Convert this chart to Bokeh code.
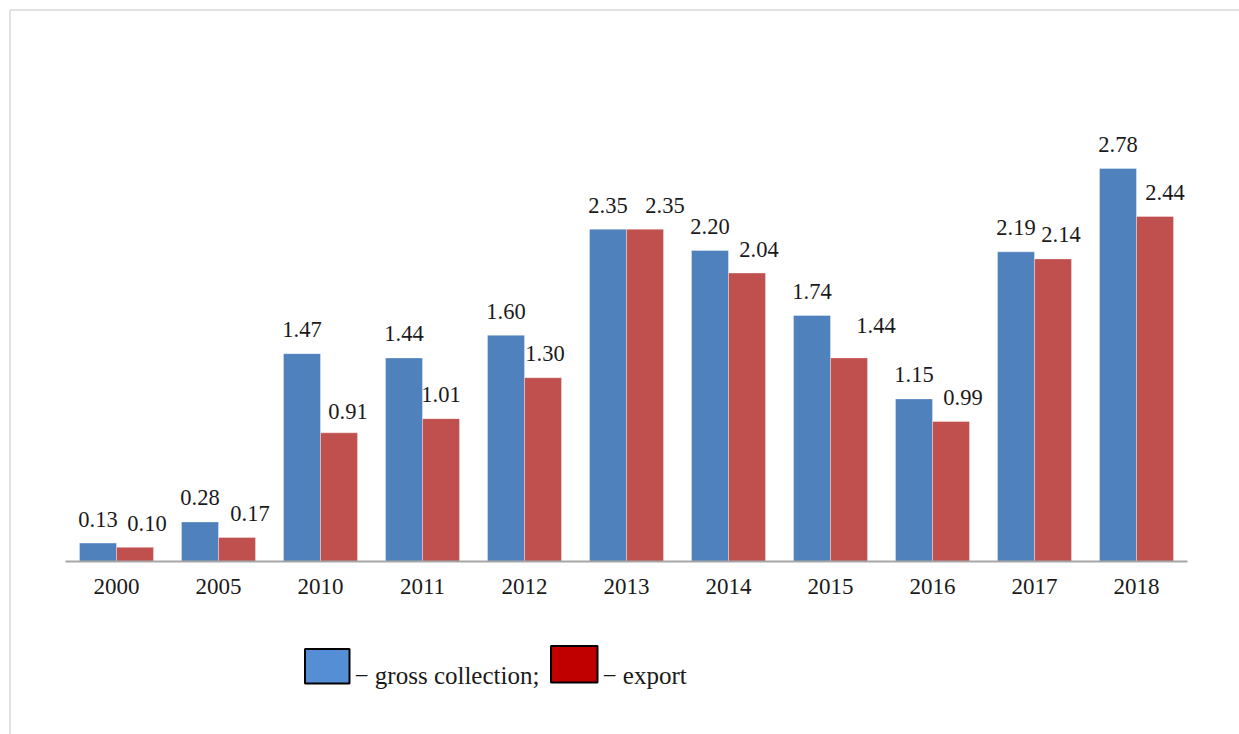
from bokeh.plotting import figure
from bokeh.models import Range1d, LinearAxis, FixedTicker, ColumnDataSource
from bokeh.transform import dodge
from bokeh.core.properties import value
from bokeh.embed import file_html
from bokeh.resources import INLINE

# ---- data ----
years = ["2000", "2005", "2010", "2011", "2012", "2013", "2014", "2015", "2016", "2017", "2018"]
gross_collection = [0.13, 0.28, 1.47, 1.44, 1.60, 2.35, 2.20, 1.74, 1.15, 2.19, 2.78]
export = [0.10, 0.17, 0.91, 1.01, 1.30, 2.35, 2.04, 1.44, 0.99, 2.14, 2.44]
legend_labels = ["\u2212 gross collection;", "\u2212 export"]

# ---- style: manual nudges of the export value labels (pixels), as in the original ----
export_label_dx = [12, 13, 9, 0, 2, 20, 12, 27, 12, 8, 10]
export_label_dy = [0, 0, 3, 0, 0, 0, 0, -8, 0, 0, 0]

# ---- layout constants (pixels) ----
W, H = 1239, 734
CAT_PX = 102.0      # pixels per category
AX_LEFT = 65.0      # left end of category axis
UNIT_PX = 141.4     # pixels per value unit
BASE_Y = 561.0      # screen y of the zero line

x_start = -(AX_LEFT / CAT_PX + 0.5)
x_end = x_start + W / CAT_PX
y_end = BASE_Y / UNIT_PX
y_start = -(H - BASE_Y) / UNIT_PX


def px_x(px):
    return x_start + px / CAT_PX


def px_y(py):
    return y_end - py / UNIT_PX


FONT = value("Liberation Serif")
BLUE, RED = "#4F81BD", "#C0504D"
LBL_DY = -24

p = figure(width=W, height=H, x_range=Range1d(x_start, x_end), y_range=Range1d(y_start, y_end),
           x_axis_type=None, y_axis_type=None, toolbar_location=None, output_backend="svg",
           min_border=0, min_border_left=0, min_border_right=0, min_border_top=0, min_border_bottom=0)
p.outline_line_color = None
p.xgrid.visible = False
p.ygrid.visible = False
p.background_fill_color = "white"
p.border_fill_color = "white"

src = ColumnDataSource(dict(
    idx=list(range(len(years))),
    gross=gross_collection,
    export=export,
    gross_lbl=[f"{v:.2f}" for v in gross_collection],
    export_lbl=[f"{v:.2f}" for v in export],
    g_dx=[0] * len(years),
    g_dy=[LBL_DY] * len(years),
    e_dx=export_label_dx,
    e_dy=[LBL_DY + d for d in export_label_dy],
))

BW = 0.363
p.vbar(x=dodge("idx", -BW / 2, range=p.x_range), top="gross", bottom=0, width=BW, source=src,
       fill_color=BLUE, line_color="white", line_alpha=0.35, line_width=1)
p.vbar(x=dodge("idx", BW / 2, range=p.x_range), top="export", bottom=0, width=BW, source=src,
       fill_color=RED, line_color="white", line_alpha=0.35, line_width=1)

for col, lbl, off, dx, dy in (("gross", "gross_lbl", -BW / 2, "g_dx", "g_dy"),
                              ("export", "export_lbl", BW / 2, "e_dx", "e_dy")):
    p.text(x=dodge("idx", off, range=p.x_range), y=col, text=lbl, source=src,
           text_font=FONT, text_font_size="22.5px", text_color="#1a1a1a",
           text_align="center", text_baseline="alphabetic", x_offset=dx, y_offset=dy)

# category axis at zero
ax = LinearAxis(fixed_location=0, ticker=FixedTicker(ticks=list(range(len(years)))),
                major_label_overrides={i: y for i, y in enumerate(years)},
                bounds=(-0.5, len(years) - 0.5))
ax.axis_line_color = "#A6A6A6"
ax.axis_line_width = 2
ax.major_tick_line_color = None
ax.minor_tick_line_color = None
ax.major_tick_out = 0
ax.major_tick_in = 0
ax.major_label_standoff = 17
ax.major_label_text_font = "Liberation Serif"
ax.major_label_text_font_size = "23px"
ax.major_label_text_color = "#1a1a1a"
p.add_layout(ax, "below")

# outer light frame (top and left edges visible)
p.segment(x0=[px_x(9.5), px_x(9.5)], y0=[px_y(9.5), px_y(9.5)],
          x1=[px_x(W + 5), px_x(9.5)], y1=[px_y(9.5), px_y(H + 5)],
          line_color="#D9D9D9", line_width=1.5)

# custom legend
p.quad(left=[px_x(304.5), px_x(550.5)], right=[px_x(349), px_x(597)],
       top=[px_y(648.5), px_y(645.5)], bottom=[px_y(683), px_y(682)],
       fill_color=["#558ED5", "#C00000"], line_color="black", line_width=2)
p.text(x=[px_x(354), px_x(602)], y=[px_y(675), px_y(675)], text=legend_labels,
       text_font=FONT, text_font_size="25px", text_color="#1a1a1a",
       text_align="left", text_baseline="alphabetic")

open("out.html", "w").write(file_html(p, INLINE))
